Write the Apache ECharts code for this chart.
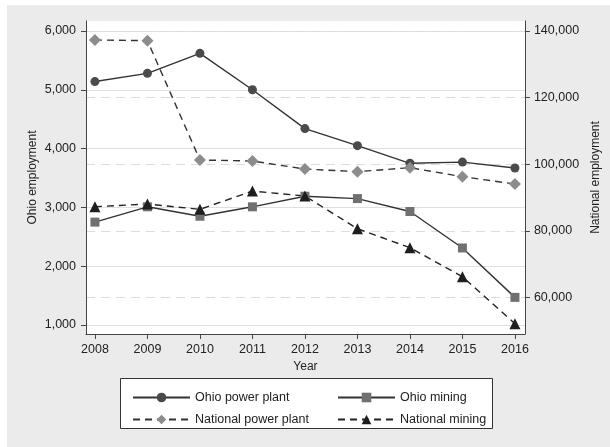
<!DOCTYPE html>
<html>
<head>
<meta charset="utf-8">
<script src="https://cdn.jsdelivr.net/npm/echarts@6/dist/echarts.min.js"></script>
<style>
  html, body { margin: 0; padding: 0; background: #fff; }
  #chart { width: 610px; height: 447px; }
</style>
</head>
<body>
<div id="chart"></div>
<script>
// data
const years = [2008, 2009, 2010, 2011, 2012, 2013, 2014, 2015, 2016]
const ohioPower = [5140, 5280, 5620, 5000, 4340, 4050, 3750, 3770, 3670]
const ohioMining = [2750, 3010, 2850, 3010, 3190, 3150, 2930, 2310, 1470]
const natPower = [137300, 137100, 101300, 101000, 98600, 97800, 99000, 96300, 94100]
const natMining = [87300, 88100, 86500, 92000, 90500, 80700, 75000, 66300, 52200]

const leftTicks = [1000, 2000, 3000, 4000, 5000, 6000]
const rightTicks = [60000, 80000, 100000, 120000, 140000]

const font = 'Liberation Sans, Arial, sans-serif'
const fmt = v => Number(v).toLocaleString('en-US')
const pairs = vals => years.map((y, i) => [y, vals[i]])

var myChart = echarts.init(document.getElementById('chart'))

var option = {
    animation: false,
    backgroundColor: '#fff',
    textStyle: { fontFamily: font },
    graphic: [
        { type: 'rect', z: -10, shape: { x: 7, y: 5, width: 603, height: 442 }, style: { fill: '#ebebeb' } },
        { type: 'rect', z: 1, shape: { x: 120.5, y: 378.5, width: 372, height: 50 }, style: { fill: '#fff', stroke: '#333', lineWidth: 1 } }
    ],
    grid: {
        left: 86, right: 83, top: 21, bottom: 113,
        show: true, backgroundColor: '#fff', borderWidth: 0
    },
    xAxis: {
        type: 'value',
        min: 2007.83,
        max: 2016.19,
        name: 'Year',
        nameLocation: 'middle',
        nameGap: 26,
        nameTextStyle: { fontSize: 12, color: '#222', fontFamily: font },
        axisLine: { lineStyle: { color: '#444', width: 1 } },
        axisTick: { length: 5, lineStyle: { color: '#444' }, customValues: years },
        axisLabel: { customValues: years, fontSize: 12.5, color: '#222', margin: 9, formatter: v => String(v) },
        splitLine: { show: false }
    },
    yAxis: [
        {
            type: 'value',
            position: 'left',
            min: 847,
            max: 6170,
            name: 'Ohio employment',
            nameLocation: 'middle',
            nameRotate: 90,
            nameGap: 47,
            nameMoveOverlap: false,
            nameTextStyle: { fontSize: 12, color: '#222', fontFamily: font },
            axisLine: { show: true, lineStyle: { color: '#444', width: 1 } },
            axisTick: { show: true, length: 5, lineStyle: { color: '#444' }, customValues: leftTicks },
            axisLabel: { customValues: leftTicks, fontSize: 12.5, color: '#222', margin: 10, formatter: fmt },
            splitLine: { show: true, lineStyle: { color: '#e0e0e0', width: 1 } }
        },
        {
            type: 'value',
            position: 'right',
            min: 49110,
            max: 143000,
            name: 'National employment',
            nameLocation: 'middle',
            nameRotate: 90,
            nameGap: 62,
            nameTextStyle: { fontSize: 12, color: '#222', fontFamily: font },
            axisLine: { show: true, lineStyle: { color: '#444', width: 1 } },
            axisTick: { show: true, length: 5, lineStyle: { color: '#444' }, customValues: rightTicks },
            axisLabel: { customValues: rightTicks, fontSize: 12.5, color: '#222', margin: 9, formatter: fmt },
            splitLine: { show: true, lineStyle: { color: '#dcdcdc', width: 1, type: [9, 6] } }
        }
    ],
    legend: [
        {
            orient: 'vertical', left: 127, top: 386, itemGap: 9,
            itemWidth: 57, itemHeight: 12,
            textStyle: { fontSize: 12.5, color: '#222' },
            data: ['Ohio power plant', 'National power plant']
        },
        {
            orient: 'vertical', left: 332, top: 386, itemGap: 9,
            itemWidth: 57, itemHeight: 12,
            textStyle: { fontSize: 12.5, color: '#222' },
            data: ['Ohio mining', 'National mining']
        }
    ],
    series: [
        {
            name: 'Ohio power plant', type: 'line', yAxisIndex: 0,
            data: pairs(ohioPower),
            symbol: 'circle', symbolSize: 9,
            itemStyle: { color: '#4a4a4a' },
            lineStyle: { color: '#333', width: 1.4 }
        },
        {
            name: 'Ohio mining', type: 'line', yAxisIndex: 0,
            data: pairs(ohioMining),
            symbol: 'rect', symbolSize: 9,
            itemStyle: { color: '#707070' },
            lineStyle: { color: '#333', width: 1.4 }
        },
        {
            name: 'National power plant', type: 'line', yAxisIndex: 1,
            data: pairs(natPower),
            symbol: 'diamond', symbolSize: 12,
            itemStyle: { color: '#8c8c8c' },
            lineStyle: { color: '#333', width: 1.4, type: [7, 5] }
        },
        {
            name: 'National mining', type: 'line', yAxisIndex: 1,
            data: pairs(natMining),
            symbol: 'triangle', symbolSize: 11,
            itemStyle: { color: '#1e1e1e' },
            lineStyle: { color: '#222', width: 1.4, type: [7, 5] }
        }
    ]
}

myChart.setOption(option)
</script>
</body>
</html>
